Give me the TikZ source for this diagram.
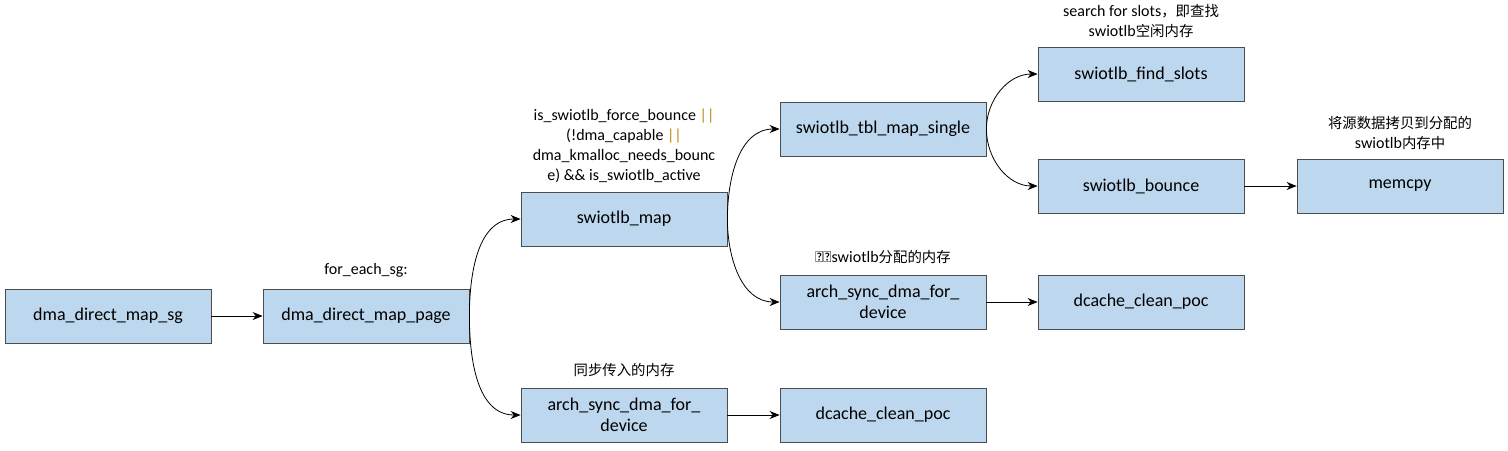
\documentclass[tikz,border=0pt]{standalone}
\usepackage{fontspec}
\setmainfont{Carlito}
\newfontfamily\cjk{Noto Sans CJK SC}[Scale=0.9]
\usetikzlibrary{positioning,arrows.meta}
\definecolor{boxfill}{HTML}{BDD7EE}
\definecolor{orbar}{HTML}{B8860B}
\tikzset{
  fn/.style={draw=black!70, fill=boxfill, minimum width=103pt, minimum height=27pt, inner sep=1pt, align=center, font=\fontsize{9}{10.5}\selectfont},
  note/.style={align=center, font=\fontsize{8}{10}\selectfont},
  arr/.style={-{Stealth[length=5pt,width=4pt]}, black},
}
\newcommand{\orr}{\textcolor{orbar}{||}}
\begin{document}
\begin{tikzpicture}[x=0.5pt,y=-0.5pt]
\useasboundingbox (0,0) rectangle (1508,450);
\node[fn] (sg) at (108,316) {dma\_direct\_map\_sg};
\node[fn] (page) at (366,316) {dma\_direct\_map\_page};
\node[fn] (map) at (624,219) {swiotlb\_map};
\node[fn] (syncA) at (624,415) {arch\_sync\_dma\_for\_\\device};
\node[fn] (pocA) at (883,415) {dcache\_clean\_poc};
\node[fn] (tbl) at (883,129) {swiotlb\_tbl\_map\_single};
\node[fn] (syncB) at (883,302) {arch\_sync\_dma\_for\_\\device};
\node[fn] (pocB) at (1141,302) {dcache\_clean\_poc};
\node[fn] (find) at (1141,74) {swiotlb\_find\_slots};
\node[fn] (bounce) at (1141,186) {swiotlb\_bounce};
\node[fn] (cpy) at (1400,186) {memcpy};
% notes
\node[note, above=2pt of page] {for\_each\_sg:};
\node[note, above=1pt of map] {is\_swiotlb\_force\_bounce \orr\\(!dma\_capable \orr\\dma\_kmalloc\_needs\_bounc\\e) \&\& is\_swiotlb\_active};
\node[note, above=2pt of syncA] {{\cjk 同步传入的内存}};
\node[note, above=2pt of syncB] {同步swiotlb{\cjk 分配的内存}};
\node[note, above=1pt of find] {search for slots{\cjk ，即查找}\\swiotlb{\cjk 空闲内存}};
\node[note, above=1pt of cpy] {{\cjk 将源数据拷贝到分配的}\\swiotlb{\cjk 内存中}};
% connectors
\draw[arr] (sg) -- (page);
\draw[arr] (page.east) to[out=90,in=180] (map.west);
\draw[arr] (page.east) to[out=-90,in=180] (syncA.west);
\draw[arr] (syncA) -- (pocA);
\draw[arr] (map.east) to[out=90,in=180] (tbl.west);
\draw[arr] (map.east) to[out=-90,in=180] (syncB.west);
\draw[arr] (syncB) -- (pocB);
\draw[arr] (tbl.east) to[out=90,in=180] (find.west);
\draw[arr] (tbl.east) to[out=-90,in=180] (bounce.west);
\draw[arr] (bounce) -- (cpy);
\end{tikzpicture}
\end{document}
